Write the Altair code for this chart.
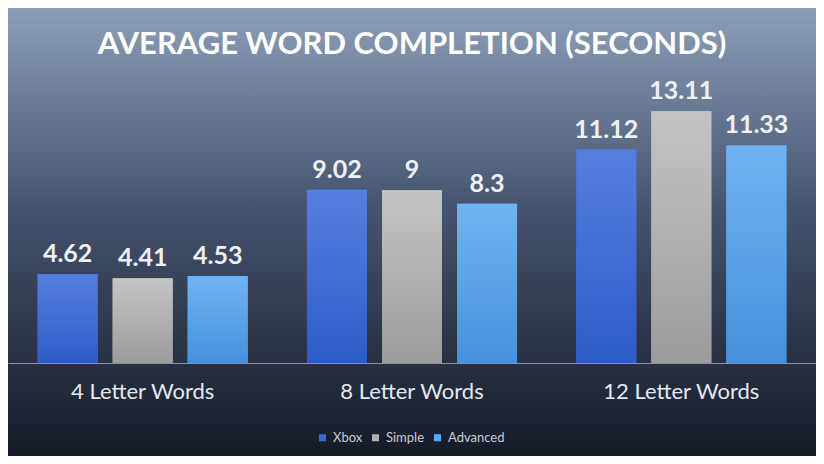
import altair as alt
import pandas as pd

groups = ["4 Letter Words", "8 Letter Words", "12 Letter Words"]
series = ["Xbox", "Simple", "Advanced"]
xbox = [4.62, 9.02, 11.12]
simple = [4.41, 9, 13.11]
advanced = [4.53, 8.3, 11.33]

rows = []
for s, vals in zip(series, [xbox, simple, advanced]):
    for g, v in zip(groups, vals):
        rows.append({"group": g, "series": s, "value": v})
df = pd.DataFrame(rows)

W, H = 808, 448
grads = {
    "Xbox": ("#5580e0", "#2c5cc8"),
    "Simple": ("#c4c4c4", "#9c9c9c"),
    "Advanced": ("#70b4f2", "#4690dc"),
}

def grad(top, bottom):
    return alt.Gradient(gradient="linear", x1=0, y1=0, x2=0, y2=1,
                        stops=[alt.GradientStop(color=top, offset=0),
                               alt.GradientStop(color=bottom, offset=1)])

bg = alt.Chart(pd.DataFrame({"a": [0]})).mark_rect(
    fill=alt.Gradient(gradient="linear", x1=0, y1=0, x2=0, y2=1, stops=[
        alt.GradientStop(color="#8d9eb9", offset=0),
        alt.GradientStop(color="#45536d", offset=0.45),
        alt.GradientStop(color="#161b27", offset=1)])
).encode(x=alt.value(0), x2=alt.value(W), y=alt.value(0), y2=alt.value(H))

x = alt.X("group:N", sort=groups, title=None,
          scale=alt.Scale(paddingInner=0.22, paddingOuter=0.11),
          axis=alt.Axis(labelAngle=0, labelFontSize=22, labelColor="#e4e8ef",
                        labelFont="Lato", labelPadding=18, ticks=False, zindex=1,
                        domainColor="#8a8f99", offset=-93))
xo = alt.XOffset("series:N", sort=series, scale=alt.Scale(paddingInner=0.2, paddingOuter=0))
y = alt.Y("value:Q", title=None, axis=None,
          scale=alt.Scale(domain=[-4.84, 18.49], nice=False, zero=False))

base = alt.Chart(df).mark_bar().encode(
    x=x, xOffset=xo, y=y, y2=alt.datum(0),
    color=alt.Color("series:N", sort=series, title=None,
                    scale=alt.Scale(domain=series, range=["#3c6bd6", "#b0b0b0", "#5ea6ee"]),
                    legend=alt.Legend(orient="none", legendX=308, legendY=423,
                                      direction="horizontal", symbolType="square",
                                      symbolSize=50, labelFontSize=13, labelColor="#c8ccd4",
                                      labelFont="Lato", columnPadding=6)),
)

layers = [bg, base]
for s in series:
    layers.append(
        alt.Chart(df[df.series == s]).mark_bar(fill=grad(*grads[s])).encode(
            x=x, xOffset=xo, y=y, y2=alt.datum(0))
    )

labels = alt.Chart(df).mark_text(dy=-20, fontSize=25, fontWeight="bold",
                                 color="#eef0f4", font="Lato").encode(
    x=x, xOffset=xo, y=y, text=alt.Text("value:Q"))

title = alt.Chart(pd.DataFrame({"t": ["AVERAGE WORD COMPLETION (SECONDS)"]})).mark_text(
    fontSize=31, fontWeight="bold", color="white", font="Lato"
).encode(x=alt.value(W / 2), y=alt.value(37), text="t:N")

chart = alt.layer(*layers, labels, title).properties(
    width=W, height=H, padding=0, autosize="none"
).configure_view(stroke=None).configure(background="#161b27")

chart.save("out.html", embed_options={"renderer": "svg", "actions": False})
